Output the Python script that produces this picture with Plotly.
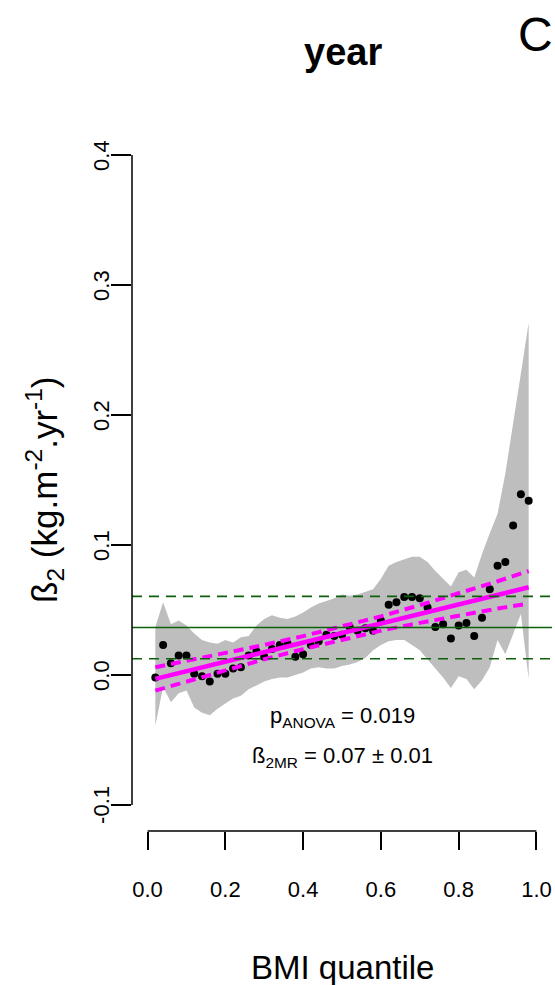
import plotly.graph_objects as go

# ---------------- data ----------------
quantile = [0.02, 0.04, 0.06, 0.08, 0.10, 0.12, 0.14, 0.16, 0.18, 0.20,
            0.22, 0.24, 0.26, 0.28, 0.30, 0.32, 0.34, 0.36, 0.38, 0.40,
            0.42, 0.44, 0.46, 0.48, 0.50, 0.52, 0.54, 0.56, 0.58, 0.60,
            0.62, 0.64, 0.66, 0.68, 0.70, 0.72, 0.74, 0.76, 0.78, 0.80,
            0.82, 0.84, 0.86, 0.88, 0.90, 0.92, 0.94, 0.96, 0.98]

beta2 = [-0.002, 0.023, 0.009, 0.015, 0.015, 0.001, -0.001, -0.005, 0.001, 0.001,
         0.005, 0.006, 0.015, 0.018, 0.014, 0.020, 0.023, 0.024, 0.014, 0.016,
         0.023, 0.026, 0.031, 0.030, 0.031, 0.037, 0.034, 0.036, 0.034, 0.042,
         0.054, 0.056, 0.060, 0.060, 0.059, 0.052, 0.037, 0.039, 0.028, 0.038,
         0.040, 0.030, 0.044, 0.066, 0.084, 0.087, 0.115, 0.139, 0.134]

band_upper = [0.037, 0.056, 0.039, 0.042, 0.038, 0.032, 0.027, 0.025, 0.024, 0.027,
              0.025, 0.029, 0.030, 0.038, 0.043, 0.046, 0.044, 0.043, 0.045, 0.048,
              0.052, 0.055, 0.057, 0.059, 0.062, 0.061, 0.062, 0.064, 0.066, 0.074,
              0.084, 0.087, 0.089, 0.091, 0.091, 0.087, 0.080, 0.074, 0.068, 0.079,
              0.081, 0.075, 0.093, 0.109, 0.124, 0.155, 0.195, 0.232, 0.271]

band_lower = [-0.039, -0.009, -0.021, -0.014, -0.012, -0.025, -0.029, -0.031, -0.026, -0.022,
              -0.018, -0.016, -0.011, -0.008, -0.005, -0.003, -0.002, -0.002, 0.000, 0.002,
              0.005, 0.006, 0.005, 0.005, 0.007, 0.008, 0.010, 0.013, 0.019, 0.023,
              0.026, 0.027, 0.027, 0.023, 0.019, 0.012, 0.005, -0.002, -0.010, -0.001,
              -0.003, -0.011, -0.004, 0.006, 0.027, 0.016, 0.031, 0.047, -0.003]

# meta-regression fit and its confidence limits
fit_x = [0.02, 0.98]
fit_y = [-0.003, 0.0675]
ci_x = [0.02, 0.10, 0.20, 0.30, 0.40, 0.50, 0.60, 0.70, 0.80, 0.90, 0.98]
ci_upper = [0.006, 0.0109, 0.0167, 0.0231, 0.0299, 0.0372, 0.0451, 0.0537, 0.0628, 0.0721, 0.080]
ci_lower = [-0.012, -0.0051, 0.0037, 0.0121, 0.0199, 0.0272, 0.0341, 0.0401, 0.0458, 0.0511, 0.055]

# overall estimate (green) and its limits
overall_beta = 0.0365
overall_ci = [0.0125, 0.0605]

x_ticks = [0.0, 0.2, 0.4, 0.6, 0.8, 1.0]
x_ticklabels = ["0.0", "0.2", "0.4", "0.6", "0.8", "1.0"]
y_ticks = [-0.1, 0.0, 0.1, 0.2, 0.3, 0.4]
y_ticklabels = ["-0.1", "0.0", "0.1", "0.2", "0.3", "0.4"]

p_anova_text = "p<sub>ANOVA</sub> = 0.019"
beta_mr_text = "ß<sub>2MR</sub> = 0.07 ± 0.01"

FONT = "Arial, Liberation Sans, Helvetica, sans-serif"
MAGENTA = "#FF00FF"
GREEN = "#0E600E"
GREY = "#BEBEBE"

fig = go.Figure()

# grey band
fig.add_trace(go.Scatter(
    x=quantile + quantile[::-1],
    y=band_upper + band_lower[::-1],
    fill="toself", fillcolor=GREY, line=dict(width=0),
    mode="lines", hoverinfo="skip", showlegend=False))

# points
fig.add_trace(go.Scatter(
    x=quantile, y=beta2, mode="markers",
    marker=dict(color="black", size=8, line=dict(width=0)),
    showlegend=False))

# fit and CI
fig.add_trace(go.Scatter(x=ci_x, y=ci_upper, mode="lines",
                         line=dict(color=MAGENTA, width=4, dash="10px,6px"),
                         showlegend=False))
fig.add_trace(go.Scatter(x=ci_x, y=ci_lower, mode="lines",
                         line=dict(color=MAGENTA, width=4, dash="10px,6px"),
                         showlegend=False))
fig.add_trace(go.Scatter(x=fit_x, y=fit_y, mode="lines",
                         line=dict(color=MAGENTA, width=4.5),
                         showlegend=False))

shapes = []
# green horizontal lines across the whole plot region
shapes.append(dict(type="line", xref="paper", x0=0, x1=1, yref="y",
                   y0=overall_beta, y1=overall_beta,
                   line=dict(color=GREEN, width=1.6)))
for v in overall_ci:
    shapes.append(dict(type="line", xref="paper", x0=0, x1=1, yref="y",
                       y0=v, y1=v, line=dict(color=GREEN, width=1.6, dash="10px,7px")))
# R-style axis lines (spanning only the tick range)
shapes.append(dict(type="line", xref="paper", x0=0, x1=0, yref="y",
                   y0=y_ticks[0], y1=y_ticks[-1], line=dict(color="black", width=1.5)))
shapes.append(dict(type="line", xref="x", x0=x_ticks[0], x1=x_ticks[-1], yref="paper",
                   y0=0, y1=0, line=dict(color="black", width=1.5)))

annotations = [
    dict(text="<b>year</b>", xref="paper", yref="paper", x=0.502, y=1.1097,
         showarrow=False, font=dict(size=38, color="black", family=FONT),
         xanchor="center", yanchor="middle"),
    dict(text="C", xref="paper", yref="paper", x=0.96, y=1.134,
         showarrow=False, font=dict(size=48, color="black", family=FONT),
         xanchor="center", yanchor="middle"),
    dict(text="BMI quantile", xref="paper", yref="paper", x=0.5, y=-0.195,
         showarrow=False, font=dict(size=33, color="black", family=FONT),
         xanchor="center", yanchor="middle"),
    dict(text="ß<sub>2</sub> (kg.m<sup>-2</sup>.yr<sup>-1</sup>)", xref="paper", yref="paper",
         x=-0.207, y=0.486, textangle=-90,
         showarrow=False, font=dict(size=35, color="black", family=FONT),
         xanchor="center", yanchor="middle"),
    dict(text=p_anova_text, xref="x", yref="y", x=0.5, y=-0.032,
         showarrow=False, font=dict(size=22, color="black", family=FONT),
         xanchor="center", yanchor="middle"),
    dict(text=beta_mr_text, xref="x", yref="y", x=0.5, y=-0.063,
         showarrow=False, font=dict(size=22, color="black", family=FONT),
         xanchor="center", yanchor="middle"),
]
# y tick labels, rotated, placed next to the ticks (R style)
for v, lab in zip(y_ticks, y_ticklabels):
    annotations.append(dict(text=lab, xref="paper", yref="y", x=-0.074, y=v,
                            textangle=-90, showarrow=False,
                            font=dict(size=22, color="black", family=FONT),
                            xanchor="center", yanchor="middle"))

fig.update_layout(
    width=555, height=985,
    margin=dict(l=132, r=3, t=129, b=154, pad=0),
    paper_bgcolor="white", plot_bgcolor="white",
    font=dict(family=FONT, color="black"),
    showlegend=False,
    shapes=shapes,
    annotations=annotations,
    xaxis=dict(range=[-0.04, 1.04], tickvals=x_ticks, ticktext=x_ticklabels,
               ticks="outside", ticklen=18, tickwidth=1.5, tickcolor="black",
               showgrid=False, zeroline=False, showline=False,
               tickfont=dict(size=22, family=FONT, color="black"),
               ticklabelstandoff=21),
    yaxis=dict(range=[-0.12, 0.42], tickvals=y_ticks,
               ticks="outside", ticklen=20, tickwidth=1.5, tickcolor="black",
               showgrid=False, zeroline=False, showline=False,
               showticklabels=False),
)

fig.write_html("out.html")
